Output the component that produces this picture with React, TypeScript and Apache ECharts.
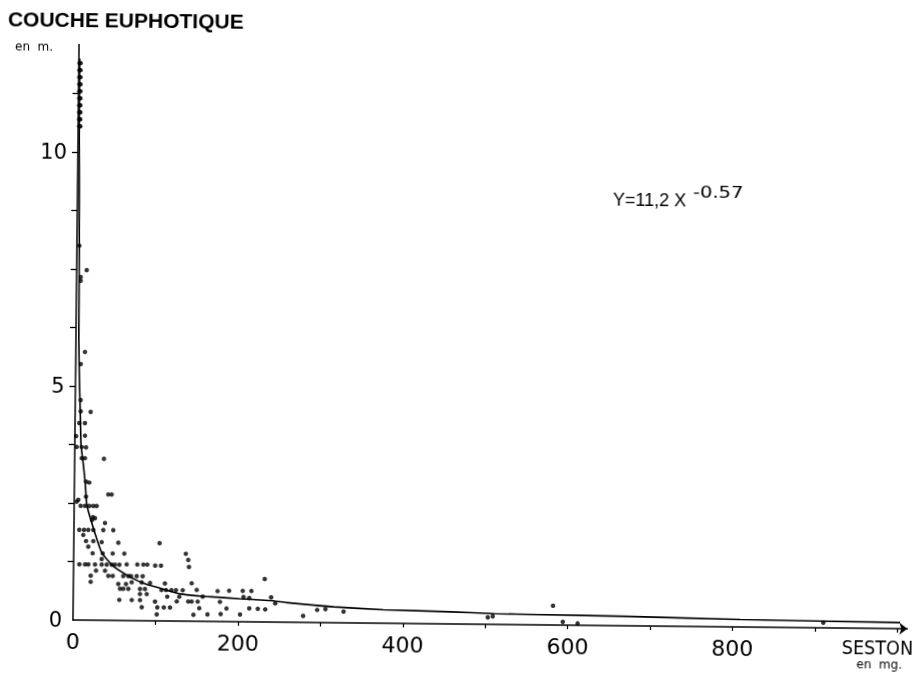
import React, { useEffect, useRef } from "react";
import * as echarts from "echarts";

// Axis ticks and labels
const xTicks = [100, 200, 300, 400, 500, 600, 700, 800, 900, 1000];
const xLabels = [0, 200, 400, 600, 800];
const yTicks = [1.25, 2.5, 3.75, 5, 6.25, 7.5, 8.75, 10, 11.25];
const yLabels = [0, 5, 10];

// Fitted curve Y = 11,2 X^-0.57 [seston, depth]
const curvePoints: [number, number][] = [
  [1.0, 12.0], [1.4, 10.5], [2.3, 9.0], [2.9, 8.0], [3.2, 7.0], [3.5, 6.0],
  [4.6, 5.2], [6.3, 4.4], [7.5, 3.75], [10, 3.4], [13, 2.95], [15.5, 2.45],
  [23, 2.0], [34, 1.45], [48, 1.16], [65, 0.97], [85, 0.8], [105, 0.7],
  [130, 0.58], [154, 0.54], [174, 0.52], [202, 0.49], [239, 0.46], [259, 0.42],
  [316, 0.34], [376, 0.29], [457, 0.26], [510, 0.23], [566, 0.22], [675, 0.2],
  [809, 0.16], [1003, 0.13],
];

// Measured points [seston en mg, couche euphotique en m]
const scatterPoints: [number, number][] = [
  [2.9, 8.0], [12.2, 7.48], [5.0, 7.33], [5.0, 7.25], [11.1, 5.73], [6.1, 5.47],
  [6.5, 4.7], [6.7, 4.46], [18.8, 4.45], [5.1, 4.21], [12.0, 4.21], [1.5, 3.93],
  [12.2, 3.94], [2.3, 3.7], [8.3, 3.7], [13.6, 3.69], [8.5, 3.46], [12.5, 3.46],
  [35.5, 3.45], [14.0, 2.96], [18.0, 2.94], [4.9, 2.57], [14.2, 2.64], [41.2, 2.69],
  [45.3, 2.69], [3.0, 2.53], [7.9, 2.44], [13.1, 2.44], [18.3, 2.44], [23.2, 2.44],
  [27.3, 2.44], [22.9, 2.2], [25.4, 2.18], [21.8, 2.14], [37.6, 2.08],
  [6.5, 1.93], [12.2, 1.93], [17.4, 1.93], [23.5, 1.93], [35.6, 1.93], [47.7, 1.93],
  [11.4, 1.82], [14.8, 1.69], [23.6, 1.69], [33.8, 1.67], [54, 1.66], [17.6, 1.57],
  [23.0, 1.43], [35.2, 1.43], [47.3, 1.43], [61.4, 1.43], [34.0, 1.31],
  [7.0, 1.19], [13.9, 1.19], [17.9, 1.19], [26.0, 1.19], [34.1, 1.19], [40.2, 1.19],
  [46.2, 1.19], [50.2, 1.19], [55.5, 1.19], [64.4, 1.2], [77.3, 1.2], [84.6, 1.2],
  [89.4, 1.2], [99, 1.18], [106, 1.18],
  [27.3, 1.06], [38.2, 1.06],
  [20.9, 0.95], [42.3, 0.95], [47.6, 0.95], [60.4, 0.95], [66.5, 0.95], [69.8, 0.95],
  [76.7, 0.95], [84, 0.95],
  [21, 0.82], [70.7, 0.82], [82.8, 0.82], [93, 0.81], [111, 0.8], [143.5, 0.81],
  [54.5, 0.78], [63.8, 0.78],
  [56.6, 0.68], [60.6, 0.68], [66.7, 0.68], [80.9, 0.68], [86.9, 0.68],
  [107, 0.66], [112.5, 0.66], [119, 0.66], [124.5, 0.66], [132.7, 0.66], [149.7, 0.67],
  [175, 0.65], [189, 0.66], [205.5, 0.66], [216, 0.66],
  [80.9, 0.57], [89.1, 0.57],
  [114, 0.52], [128.6, 0.52], [157, 0.53], [206.5, 0.53], [213.5, 0.51],
  [55.9, 0.44], [71, 0.44], [81, 0.44], [99.2, 0.41], [125.6, 0.42], [139.6, 0.42],
  [143.7, 0.42], [151, 0.42], [178, 0.42],
  [83.2, 0.29], [102.1, 0.29], [110, 0.29], [117.5, 0.29], [153, 0.28], [186, 0.28],
  [213.6, 0.29], [224, 0.28], [233, 0.27],
  [101.5, 0.14], [146, 0.14], [163, 0.15], [179, 0.16], [202.5, 0.155],
  [104, 1.66], [136, 1.44], [139, 1.31], [140, 1.16],
  [232, 0.92], [240, 0.53], [245, 0.4], [279, 0.14], [296, 0.27], [306, 0.29],
  [328, 0.24], [503, 0.15], [509, 0.17], [582, 0.41], [594, 0.07], [612, 0.04],
  [910, 0.11],
];

// Tightly packed points at very low seston (dark bar along the axis)
const densePoints: [number, number][] = [
  [0.8, 11.9], [2.2, 11.9], [0.8, 11.75], [2.2, 11.75], [0.8, 11.6], [2.2, 11.6],
  [0.9, 11.45], [2.3, 11.45], [0.9, 11.3], [2.3, 11.3], [1.0, 11.15], [2.4, 11.15],
  [1.0, 11.0], [2.4, 11.0], [1.1, 10.85], [2.5, 10.85], [1.1, 10.7], [2.5, 10.7],
  [1.2, 10.55], [2.6, 10.55],
];

export default function App() {
  const ref = useRef<HTMLDivElement>(null);

  useEffect(() => {
    if (!ref.current) return;
    const chart = echarts.init(ref.current, null, { renderer: "svg" });
    const axisFont = "DejaVu Sans";
    chart.setOption({
      animation: false,
      backgroundColor: "transparent",
      grid: {
        left: 73,
        right: 13.6,
        top: 44.4,
        bottom: 54,
        outerBoundsMode: "none",
        containLabel: false,
      },
      xAxis: {
        type: "value",
        min: 0,
        max: 1012,
        interval: 100,
        splitLine: { show: false },
        axisLine: {
          show: true,
          onZero: false,
          lineStyle: { color: "#000", width: 1.5 },
          symbol: ["none", "arrow"],
          symbolSize: [9, 8],
        },
        axisTick: {
          show: true,
          length: 4,
          customValues: xTicks,
          lineStyle: { color: "#000", width: 1.2 },
        },
        axisLabel: {
          show: true,
          customValues: xLabels,
          color: "#000",
          fontFamily: axisFont,
          fontSize: 22,
          margin: 10,
        },
      },
      yAxis: {
        type: "value",
        min: 0,
        max: 12.3,
        interval: 1.25,
        splitLine: { show: false },
        axisLine: {
          show: true,
          onZero: false,
          lineStyle: { color: "#000", width: 1.5 },
        },
        axisTick: {
          show: true,
          length: 6,
          customValues: yTicks,
          lineStyle: { color: "#000", width: 1.3 },
        },
        axisLabel: {
          show: true,
          customValues: yLabels,
          color: "#000",
          fontFamily: axisFont,
          fontSize: 21,
          margin: 11,
          padding: [0, 0, 8, 0],
        },
      },
      series: [
        {
          type: "line",
          name: "courbe",
          data: curvePoints,
          showSymbol: false,
          smooth: 0.2,
          lineStyle: { color: "#000", width: 1.6 },
          silent: true,
          z: 2,
        },
        {
          type: "scatter",
          name: "mesures",
          data: scatterPoints,
          symbol: "circle",
          symbolSize: 4.5,
          itemStyle: { color: "#000" },
          z: 3,
        },
        {
          type: "scatter",
          name: "dense",
          data: densePoints,
          symbol: "circle",
          symbolSize: 4.5,
          itemStyle: { color: "#000" },
          z: 3,
        },
      ],
      graphic: {
        elements: [
          {
            type: "text",
            x: 1.7,
            y: 19.7,
            style: {
              text: "COUCHE EUPHOTIQUE",
              fontFamily: "Liberation Sans",
              fontWeight: "bold",
              fontSize: 21,
              fill: "#000",
              align: "left",
              verticalAlign: "middle",
            },
          },
          {
            type: "text",
            x: 9,
            y: 47.1,
            style: {
              text: "en  m.",
              fontFamily: axisFont,
              fontSize: 12,
              fill: "#000",
              align: "left",
              verticalAlign: "middle",
            },
          },
          {
            type: "text",
            x: 608.6,
            y: 194.3,
            style: {
              text: "Y=11,2 X",
              fontFamily: "Liberation Sans",
              fontSize: 18,
              fill: "#000",
              align: "left",
              verticalAlign: "middle",
            },
          },
          {
            type: "text",
            x: 688.5,
            y: 185.5,
            scaleX: 1.3,
            style: {
              text: "-0.57",
              fontFamily: axisFont,
              fontSize: 15,
              fill: "#000",
              align: "left",
              verticalAlign: "middle",
            },
          },
          {
            type: "text",
            x: 913.3,
            y: 639.2,
            scaleX: 0.88,
            style: {
              text: "SESTON",
              fontFamily: axisFont,
              fontSize: 20,
              fill: "#000",
              align: "right",
              verticalAlign: "middle",
            },
          },
          {
            type: "text",
            x: 902.5,
            y: 656.3,
            style: {
              text: "en  mg.",
              fontFamily: axisFont,
              fontSize: 12,
              fill: "#000",
              align: "right",
              verticalAlign: "middle",
            },
          },
        ],
      },
    });
    return () => chart.dispose();
  }, []);

  return (
    <div
      ref={ref}
      style={{
        position: "fixed",
        left: 0,
        top: 0,
        width: 921,
        height: 674,
        transform: "rotate(0.6deg)",
        transformOrigin: "73px 620px",
      }}
    />
  );
}
